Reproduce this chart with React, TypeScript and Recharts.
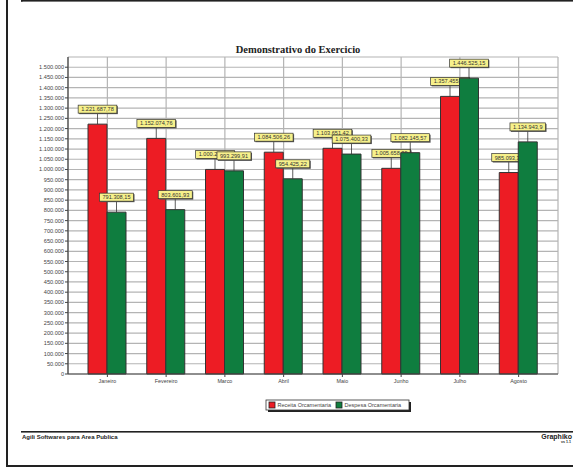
import { BarChart, Bar, XAxis, YAxis, CartesianGrid, LabelList, Rectangle } from "recharts";

const months = ["Janeiro", "Fevereiro", "Marco", "Abril", "Maio", "Junho", "Julho", "Agosto"];
const receita = [1221687.78, 1152074.76, 1000245.63, 1084506.26, 1103651.42, 1005658.39, 1357455.82, 985093.37];
const despesa = [791308.15, 803601.93, 993299.91, 954425.22, 1075400.33, 1082145.57, 1446525.15, 1134943.9];
const seriesNames = ["Receita Orcamentaria", "Despesa Orcamentaria"];
const seriesColors = ["#ed1c24", "#0f7d3f"];
const yTicks = [
  0, 50000, 100000, 150000, 200000, 250000, 300000, 350000, 400000, 450000, 500000,
  550000, 600000, 650000, 700000, 750000, 800000, 850000, 900000, 950000, 1000000,
  1050000, 1100000, 1150000, 1200000, 1250000, 1300000, 1350000, 1400000, 1450000, 1500000,
];

const data = months.map((m, i) => ({ month: m, receita: receita[i], despesa: despesa[i] }));

const SANS = "'Liberation Sans', Arial, sans-serif";
const SERIF = "'Liberation Serif', 'Times New Roman', serif";

function groupThousands(s: string) {
  return s.replace(/\B(?=(\d{3})+(?!\d))/g, ".");
}

function fmtInt(v: number) {
  return groupThousands(String(Math.round(v)));
}

function fmtMoney(v: number) {
  const [int, dec] = v.toFixed(2).split(".");
  const d = dec.replace(/0+$/, "");
  return groupThousands(int) + (d ? "," + d : "");
}

function textWidth(s: string, fs: number) {
  let w = 0;
  for (const ch of s) w += ch === "." || ch === "," ? 0.278 : 0.556;
  return w * fs;
}

function ValueBox(props: any) {
  const { x, y, width, value } = props;
  const cx = Number(x) + Number(width) / 2;
  const top = Number(y);
  const fs = 5.6;
  const text = fmtMoney(Number(value));
  const w = textWidth(text, fs) + 6;
  const h = 8;
  const by = top - 11 - h;
  return (
    <g>
      <line x1={cx} y1={top} x2={cx} y2={by + h} stroke="#333" strokeWidth={0.8} />
      <rect x={cx - w / 2 + 1} y={by + 1} width={w} height={h} fill="#555" />
      <rect x={cx - w / 2} y={by} width={w} height={h} fill="#f7f18b" stroke="#333" strokeWidth={0.7} />
      <text x={cx} y={by + h / 2 + 2} textAnchor="middle" fontSize={fs} fill="#333" fontFamily={SANS}>
        {text}
      </text>
    </g>
  );
}

// red bars carry their own value box so the green bars drawn later sit on top of it
function BarWithBox(props: any) {
  const { x, y, width, height, payload } = props;
  return (
    <g>
      <Rectangle x={x} y={y} width={width} height={height} fill={seriesColors[0]} stroke="#333" strokeWidth={1} />
      <ValueBox x={x} y={y} width={width} value={payload.receita} />
    </g>
  );
}

export default function App() {
  return (
    <div style={{ position: "relative", width: 573, height: 472, background: "#fff", overflow: "hidden" }}>
      <style>{"body{margin:0}"}</style>
      <BarChart
        width={573}
        height={472}
        data={data}
        margin={{ top: 57, right: 15, bottom: 78, left: 0 }}
        barSize={19}
        barGap={0}
      >
        <CartesianGrid stroke="#b4b4b4" strokeWidth={1.2} />
        <XAxis
          dataKey="month"
          padding={{ left: 10, right: 10 }}
          height={20}
          tickSize={3}
          tickMargin={2}
          axisLine={{ stroke: "#444", strokeWidth: 1.2 }}
          tickLine={{ stroke: "#444" }}
          tick={{ fontSize: 5.4, fill: "#444", fontFamily: SANS }}
          interval={0}
        />
        <XAxis
          xAxisId="top"
          dataKey="month"
          orientation="top"
          height={0}
          tick={false}
          tickLine={false}
          axisLine={{ stroke: "#555", strokeWidth: 1.2 }}
        />
        <YAxis
          width={68}
          domain={[0, 1550000]}
          ticks={yTicks}
          interval={0}
          tickSize={3}
          tickMargin={1}
          tickFormatter={fmtInt}
          axisLine={{ stroke: "#444", strokeWidth: 1.2 }}
          tickLine={{ stroke: "#444" }}
          tick={{ fontSize: 5.6, fill: "#444", fontFamily: SANS }}
        />
        <YAxis
          yAxisId="right"
          orientation="right"
          width={0}
          domain={[0, 1550000]}
          tick={false}
          tickLine={false}
          axisLine={{ stroke: "#555", strokeWidth: 1.2 }}
        />
        <Bar
          dataKey="receita"
          name={seriesNames[0]}
          fill={seriesColors[0]}
          stroke="#333"
          strokeWidth={1}
          shape={BarWithBox}
          isAnimationActive={false}
        />
        <Bar dataKey="despesa" name={seriesNames[1]} fill={seriesColors[1]} stroke="#333" strokeWidth={1} isAnimationActive={false}>
          <LabelList dataKey="despesa" content={ValueBox} />
        </Bar>
      </BarChart>

      <svg width={573} height={472} style={{ position: "absolute", left: 0, top: 0, pointerEvents: "none" }}>
        {/* page frame */}
        <rect x={6} y={-4} width={2} height={471} fill="#222" />
        <rect x={6} y={465} width={567} height={2} fill="#222" />
        <rect x={21} y={0} width={552} height={1.6} fill="#222" />
        <rect x={21} y={-2} width={1.6} height={3.6} fill="#222" />

        {/* title */}
        <text x={298} y={52.5} textAnchor="middle" fontSize={10.5} fontWeight="bold" fill="#222" fontFamily={SERIF}>
          Demonstrativo do Exercicio
        </text>

        {/* legend */}
        <rect x={268} y={402} width={143} height={10} fill="#222" />
        <rect x={266} y={400} width={143} height={10} fill="#fff" stroke="#333" strokeWidth={0.8} />
        <rect x={269} y={402} width={6} height={6} fill={seriesColors[0]} stroke="#222" strokeWidth={0.8} />
        <text x={277.5} y={407} fontSize={5.5} fill="#444" fontFamily={SANS}>{seriesNames[0]}</text>
        <rect x={336} y={402} width={6} height={6} fill={seriesColors[1]} stroke="#222" strokeWidth={0.8} />
        <text x={344.5} y={407} fontSize={5.5} fill="#444" fontFamily={SANS}>{seriesNames[1]}</text>

        {/* footer */}
        <rect x={21} y={431} width={552} height={1.6} fill="#222" />
        <text x={22} y={439} fontSize={6} fontWeight="bold" fill="#222" fontFamily={SANS}>
          Agili Softwares para Area Publica
        </text>
        <text x={572} y={438.5} textAnchor="end" fontSize={7} fontWeight="bold" fill="#222" fontFamily={SANS}>
          Graphiko
        </text>
        <text x={571} y={443} textAnchor="end" fontSize={3.6} fontWeight="bold" fill="#222" fontFamily={SANS}>
          vs 1.1
        </text>
      </svg>
    </div>
  );
}
